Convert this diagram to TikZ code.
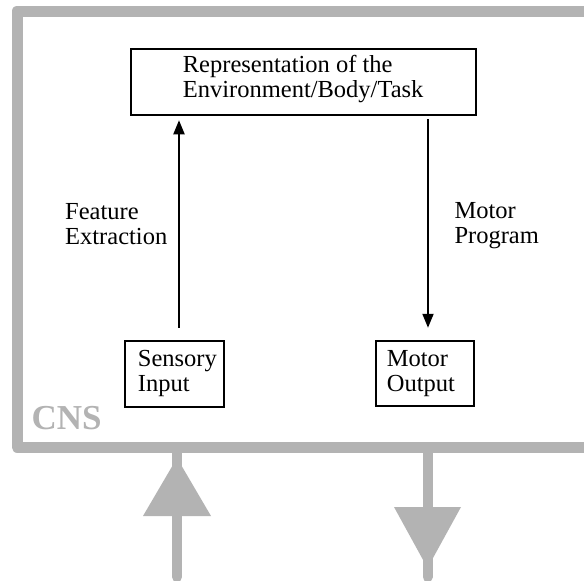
\documentclass[tikz,border=0pt]{standalone}
\usepackage{fontspec}
\setmainfont{Liberation Serif}
\usetikzlibrary{arrows.meta,calc}
\definecolor{cnsgray}{RGB}{179,179,179}
\tikzset{
  blackbox/.style={draw=black, line width=2.5pt, inner sep=0pt},
  boxtext/.style={align=left, anchor=base west, inner sep=0pt, font=\fontsize{24.5}{25}\selectfont},
  flow/.style={line width=2pt, -{Triangle[width=11pt,length=14pt]}},
  frameline/.style={draw=cnsgray, line width=11pt, line join=round},
  grayshaft/.style={draw=cnsgray, line width=10pt, line cap=round},
  grayhead/.style={fill=cnsgray, draw=none}
}
\begin{document}
\begin{tikzpicture}[x=1pt,y=-1pt]
\clip (0,0) rectangle (584,581);
\fill[white] (0,0) rectangle (584,581);
% CNS frame
\draw[frameline] (610,11) -- (17,11) -- (17,447) -- (610,447);
\node[anchor=base west, inner sep=0pt, text=cnsgray, font=\fontsize{35}{35}\bfseries\selectfont] (cns) at (31.5,429.3) {CNS};
% boxes
\node[blackbox, minimum width=345pt, minimum height=66pt] (rep) at (303.5,82) {};
\node[boxtext] (reptext) at (182.7,97.3) {Representation of the\\Environment/Body/Task};
\node[blackbox, minimum width=99pt, minimum height=66pt] (sens) at (174.5,374) {};
\node[boxtext] (senstext) at (137.7,391.7) {Sensory\\Input};
\node[blackbox, minimum width=98pt, minimum height=65pt] (mot) at (425,373.5) {};
\node[boxtext] (mottext) at (386.7,391.3) {Motor\\Output};
% labels
\node[boxtext] (fe) at (65,244) {Feature\\Extraction};
\node[boxtext] (mp) at (454.3,243.3) {Motor\\Program};
% black arrows
\coordinate (ux) at (179,0);
\coordinate (dx) at (428,0);
\draw[flow, shorten <=12pt, shorten >=4pt] (sens.north -| ux) -- (rep.south -| ux);
\draw[flow, shorten <=3pt, shorten >=12pt] (rep.south -| dx) -- (mot.north -| dx);
% gray external arrows
\coordinate (inbot) at (177,577);
\coordinate (intop) at (177,447);
\coordinate (outtop) at (427.5,447);
\coordinate (outbot) at (427.5,577);
\draw[grayshaft] (inbot) -- (intop);
\fill[grayhead] ($(intop)+(-34,69)$) -- ($(intop)+(34,69)$) -- ($(intop)+(0,11)$) -- cycle;
\draw[grayshaft] (outtop) -- (outbot);
\fill[grayhead] ($(outtop)+(-33.5,60)$) -- ($(outtop)+(33.5,60)$) -- ($(outtop)+(0,121)$) -- cycle;
\end{tikzpicture}
\end{document}
